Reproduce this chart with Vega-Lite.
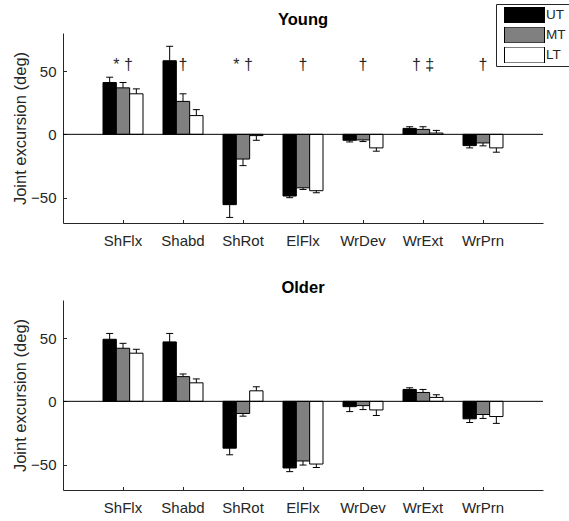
{
  "$schema": "https://vega.github.io/schema/vega-lite/v6.json",
  "padding": {"left": 12, "top": 3, "right": 0, "bottom": 0},
  "background": "white",
  "spacing": 31,
  "datasets": {
    "bars": [
      {"panel": "Young", "joint": "ShFlx", "level": "UT", "mean": 40.9, "bound": 45.1},
      {"panel": "Young", "joint": "ShFlx", "level": "MT", "mean": 36.7, "bound": 40.9},
      {"panel": "Young", "joint": "ShFlx", "level": "LT", "mean": 32.0, "bound": 35.9},
      {"panel": "Young", "joint": "Shabd", "level": "UT", "mean": 58.1, "bound": 69.5},
      {"panel": "Young", "joint": "Shabd", "level": "MT", "mean": 26.0, "bound": 32.0},
      {"panel": "Young", "joint": "Shabd", "level": "LT", "mean": 14.8, "bound": 19.5},
      {"panel": "Young", "joint": "ShRot", "level": "UT", "mean": -55.5, "bound": -65.6},
      {"panel": "Young", "joint": "ShRot", "level": "MT", "mean": -19.5, "bound": -24.7},
      {"panel": "Young", "joint": "ShRot", "level": "LT", "mean": -1.0, "bound": -4.7},
      {"panel": "Young", "joint": "ElFlx", "level": "UT", "mean": -48.7, "bound": -50.0},
      {"panel": "Young", "joint": "ElFlx", "level": "MT", "mean": -42.2, "bound": -43.5},
      {"panel": "Young", "joint": "ElFlx", "level": "LT", "mean": -44.5, "bound": -46.1},
      {"panel": "Young", "joint": "WrDev", "level": "UT", "mean": -4.7, "bound": -6.0},
      {"panel": "Young", "joint": "WrDev", "level": "MT", "mean": -4.4, "bound": -5.7},
      {"panel": "Young", "joint": "WrDev", "level": "LT", "mean": -10.7, "bound": -13.3},
      {"panel": "Young", "joint": "WrExt", "level": "UT", "mean": 4.7, "bound": 6.0},
      {"panel": "Young", "joint": "WrExt", "level": "MT", "mean": 3.9, "bound": 6.0},
      {"panel": "Young", "joint": "WrExt", "level": "LT", "mean": 1.0, "bound": 3.1},
      {"panel": "Young", "joint": "WrPrn", "level": "UT", "mean": -8.9, "bound": -10.7},
      {"panel": "Young", "joint": "WrPrn", "level": "MT", "mean": -6.8, "bound": -9.1},
      {"panel": "Young", "joint": "WrPrn", "level": "LT", "mean": -10.7, "bound": -14.1},
      {"panel": "Older", "joint": "ShFlx", "level": "UT", "mean": 49.0, "bound": 53.6},
      {"panel": "Older", "joint": "ShFlx", "level": "MT", "mean": 41.9, "bound": 45.8},
      {"panel": "Older", "joint": "ShFlx", "level": "LT", "mean": 38.0, "bound": 41.1},
      {"panel": "Older", "joint": "Shabd", "level": "UT", "mean": 46.9, "bound": 53.6},
      {"panel": "Older", "joint": "Shabd", "level": "MT", "mean": 19.5, "bound": 21.6},
      {"panel": "Older", "joint": "Shabd", "level": "LT", "mean": 14.6, "bound": 17.7},
      {"panel": "Older", "joint": "ShRot", "level": "UT", "mean": -37.0, "bound": -42.2},
      {"panel": "Older", "joint": "ShRot", "level": "MT", "mean": -9.6, "bound": -11.7},
      {"panel": "Older", "joint": "ShRot", "level": "LT", "mean": 8.3, "bound": 11.5},
      {"panel": "Older", "joint": "ElFlx", "level": "UT", "mean": -52.6, "bound": -55.5},
      {"panel": "Older", "joint": "ElFlx", "level": "MT", "mean": -47.1, "bound": -50.3},
      {"panel": "Older", "joint": "ElFlx", "level": "LT", "mean": -49.5, "bound": -52.3},
      {"panel": "Older", "joint": "WrDev", "level": "UT", "mean": -4.2, "bound": -8.1},
      {"panel": "Older", "joint": "WrDev", "level": "MT", "mean": -3.4, "bound": -6.5},
      {"panel": "Older", "joint": "WrDev", "level": "LT", "mean": -6.8, "bound": -11.2},
      {"panel": "Older", "joint": "WrExt", "level": "UT", "mean": 9.4, "bound": 10.7},
      {"panel": "Older", "joint": "WrExt", "level": "MT", "mean": 7.0, "bound": 9.4},
      {"panel": "Older", "joint": "WrExt", "level": "LT", "mean": 3.1, "bound": 5.2},
      {"panel": "Older", "joint": "WrPrn", "level": "UT", "mean": -13.8, "bound": -16.7},
      {"panel": "Older", "joint": "WrPrn", "level": "MT", "mean": -10.4, "bound": -13.5},
      {"panel": "Older", "joint": "WrPrn", "level": "LT", "mean": -12.0, "bound": -17.4}
    ],
    "notes": [
      {"joint": "ShFlx", "label": "* †"},
      {"joint": "Shabd", "label": "†"},
      {"joint": "ShRot", "label": "* †"},
      {"joint": "ElFlx", "label": "†"},
      {"joint": "WrDev", "label": "†"},
      {"joint": "WrExt", "label": "† ‡"},
      {"joint": "WrPrn", "label": "†"}
    ]
  },
  "config": {
    "font": "Liberation Sans",
    "view": {"stroke": null},
    "axis": {
      "domainColor": "#262626", "tickColor": "#262626", "labelColor": "#262626", "titleColor": "#262626",
      "labelFont": "Liberation Sans", "titleFont": "Liberation Sans",
      "labelFontSize": 15, "titleFontSize": 16.5, "titleFontWeight": "normal",
      "grid": false, "tickSize": -3.5
    },
    "title": {"font": "Liberation Sans", "fontSize": 16.5, "fontWeight": "bold", "color": "#000000", "offset": 4, "anchor": "middle", "frame": "group"}
  },
  "resolve": {"legend": {"color": "independent"}},
  "vconcat": [
    {
      "title": {"text": "Young", "offset": -25},
      "width": 480,
      "height": 190,
      "layer": [
        {
          "data": {"name": "bars"},
          "transform": [{"filter": "datum.panel === 'Young'"}],
          "mark": {"type": "bar", "stroke": "black", "strokeWidth": 1},
          "encoding": {
            "x": {"field": "joint", "type": "nominal", "sort": ["ShFlx","Shabd","ShRot","ElFlx","WrDev","WrExt","WrPrn"], "scale": {"paddingInner": 0, "paddingOuter": 0.5}, "axis": {"title": null, "labelAngle": 0, "labelPadding": 13.5}},
            "xOffset": {"field": "level", "sort": ["UT","MT","LT"], "scale": {"paddingInner": 0, "paddingOuter": 0.75}},
            "y": {"field": "mean", "type": "quantitative", "scale": {"domain": [-70, 80], "nice": false}, "axis": {"values": [-50, 0, 50], "title": "Joint excursion (deg)", "labelPadding": 10.5, "titlePadding": 2}},
            "color": {"field": "level", "type": "nominal", "sort": ["UT","MT","LT"], "scale": {"domain": ["UT","MT","LT"], "range": ["#000000","#808080","#ffffff"]},
              "legend": {"orient": "none", "legendX": 433, "legendY": -29, "title": null, "symbolType": "M-1,-0.4H1V0.4H-1Z", "symbolSize": 1600, "symbolStrokeColor": "black", "symbolStrokeWidth": 1, "symbolOpacity": 1, "clipHeight": 16, "rowPadding": 4, "padding": 3, "symbolOffset": 5, "labelOffset": 1, "labelFontSize": 13.5, "labelFont": "Liberation Sans", "labelColor": "#262626", "strokeColor": "#262626", "fillColor": "white"}}
          }
        },
        {
          "data": {"values": [{}]},
          "mark": {"type": "rule", "color": "black", "strokeWidth": 1},
          "encoding": {"y": {"datum": 0}}
        },
        {
          "data": {"name": "bars"},
          "transform": [{"filter": "datum.panel === 'Young'"}],
          "mark": {"type": "rule", "color": "black", "strokeWidth": 1},
          "encoding": {
            "x": {"field": "joint", "type": "nominal", "sort": ["ShFlx","Shabd","ShRot","ElFlx","WrDev","WrExt","WrPrn"]},
            "xOffset": {"field": "level", "sort": ["UT","MT","LT"]},
            "y": {"field": "mean", "type": "quantitative"},
            "y2": {"field": "bound"}
          }
        },
        {
          "data": {"name": "bars"},
          "transform": [{"filter": "datum.panel === 'Young'"}],
          "mark": {"type": "tick", "orient": "horizontal", "color": "black", "size": 7, "thickness": 1, "opacity": 1},
          "encoding": {
            "x": {"field": "joint", "type": "nominal", "sort": ["ShFlx","Shabd","ShRot","ElFlx","WrDev","WrExt","WrPrn"]},
            "xOffset": {"field": "level", "sort": ["UT","MT","LT"]},
            "y": {"field": "bound", "type": "quantitative"}
          }
        },
        {
          "data": {"name": "notes"},
          "mark": {"type": "text", "fontSize": 16, "color": "#262626", "baseline": "alphabetic", "font": "Liberation Sans"},
          "encoding": {
            "x": {"field": "joint", "type": "nominal", "sort": ["ShFlx","Shabd","ShRot","ElFlx","WrDev","WrExt","WrPrn"]},
            "y": {"datum": 51},
            "text": {"field": "label"}
          }
        }
      ]
    },
    {
      "title": "Older",
      "width": 480,
      "height": 190,
      "layer": [
        {
          "data": {"name": "bars"},
          "transform": [{"filter": "datum.panel === 'Older'"}],
          "mark": {"type": "bar", "stroke": "black", "strokeWidth": 1},
          "encoding": {
            "x": {"field": "joint", "type": "nominal", "sort": ["ShFlx","Shabd","ShRot","ElFlx","WrDev","WrExt","WrPrn"], "scale": {"paddingInner": 0, "paddingOuter": 0.5}, "axis": {"title": null, "labelAngle": 0, "labelPadding": 13.5}},
            "xOffset": {"field": "level", "sort": ["UT","MT","LT"], "scale": {"paddingInner": 0, "paddingOuter": 0.75}},
            "y": {"field": "mean", "type": "quantitative", "scale": {"domain": [-70, 80], "nice": false}, "axis": {"values": [-50, 0, 50], "title": "Joint excursion (deg)", "labelPadding": 10.5, "titlePadding": 2}},
            "color": {"field": "level", "type": "nominal", "sort": ["UT","MT","LT"], "scale": {"domain": ["UT","MT","LT"], "range": ["#000000","#808080","#ffffff"]}, "legend": null}
          }
        },
        {
          "data": {"values": [{}]},
          "mark": {"type": "rule", "color": "black", "strokeWidth": 1},
          "encoding": {"y": {"datum": 0}}
        },
        {
          "data": {"name": "bars"},
          "transform": [{"filter": "datum.panel === 'Older'"}],
          "mark": {"type": "rule", "color": "black", "strokeWidth": 1},
          "encoding": {
            "x": {"field": "joint", "type": "nominal", "sort": ["ShFlx","Shabd","ShRot","ElFlx","WrDev","WrExt","WrPrn"]},
            "xOffset": {"field": "level", "sort": ["UT","MT","LT"]},
            "y": {"field": "mean", "type": "quantitative"},
            "y2": {"field": "bound"}
          }
        },
        {
          "data": {"name": "bars"},
          "transform": [{"filter": "datum.panel === 'Older'"}],
          "mark": {"type": "tick", "orient": "horizontal", "color": "black", "size": 7, "thickness": 1, "opacity": 1},
          "encoding": {
            "x": {"field": "joint", "type": "nominal", "sort": ["ShFlx","Shabd","ShRot","ElFlx","WrDev","WrExt","WrPrn"]},
            "xOffset": {"field": "level", "sort": ["UT","MT","LT"]},
            "y": {"field": "bound", "type": "quantitative"}
          }
        }
      ]
    }
  ]
}
